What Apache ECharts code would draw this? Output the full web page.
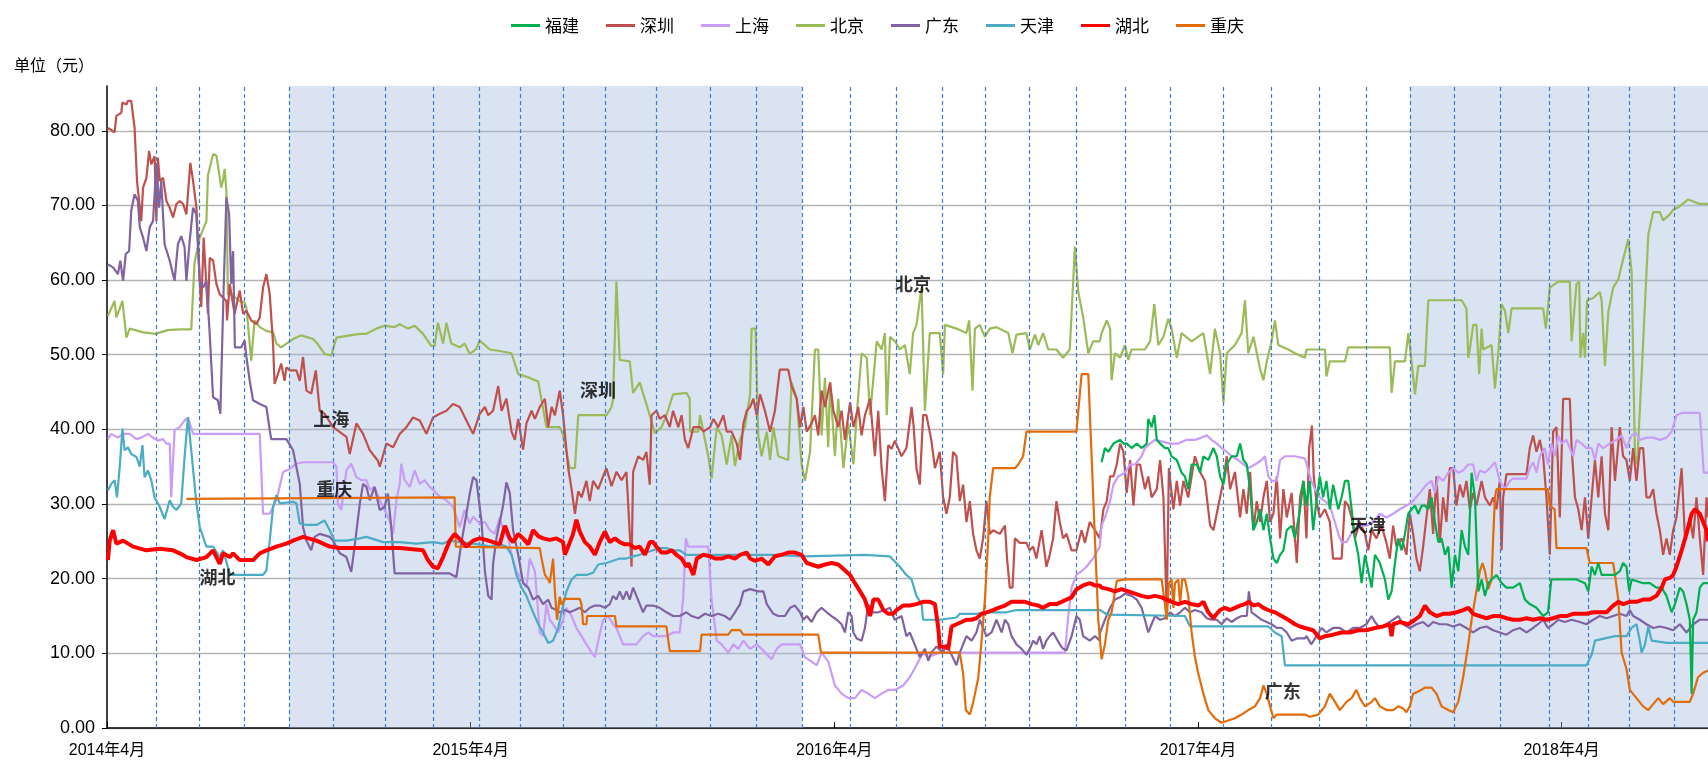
<!DOCTYPE html>
<html><head><meta charset="utf-8">
<script src="https://cdn.jsdelivr.net/npm/echarts/dist/echarts.min.js"></script>
<style>html,body{margin:0;padding:0;background:#fff}#c{width:1708px;height:768px}</style>
</head><body><div id="c"></div>
<script>
// x = months since 2014年4月
const legendNames = ['福建','深圳','上海','北京','广东','天津','湖北','重庆'];
const yearTicks = [0, 12, 24, 36, 48];
const refMonths = [1.63,3.04,4.54,6.0,7.46,9.17,10.76,12.27,13.62,15.07,16.45,18.13,19.89,21.43,22.94,24.54,26.05,27.56,28.97,30.43,31.97,33.59,35.1,36.83,38.43,39.99,41.54,42.99,44.46,45.96,47.58,48.88,50.23,51.7];
const shadedRanges = [[6.0, 22.94], [42.99, 52.83]];
const notes = [['北京',26.6,59.4],['深圳',16.2,45.2],['上海',7.4,41.4],['重庆',7.5,32.0],['湖北',3.65,20.2],['天津',41.6,27.2],['广东',38.8,4.9]];

const beijing = [[0.03,55.2],[0.25,57.2],[0.31,55.0],[0.51,57.2],[0.64,52.3],[0.75,53.5],[1.2,53.0],[1.6,52.8],[2.0,53.3],[2.4,53.4],[2.78,53.4],[2.89,62.4],[3.06,65.7],[3.28,67.9],[3.33,74.0],[3.5,76.9],[3.61,76.7],[3.77,72.4],[3.83,73.4],[3.88,74.9],[3.94,72.0],[3.99,58.1],[4.16,57.9],[4.38,57.2],[4.54,57.0],[4.6,56.3],[4.76,49.2],[4.87,54.6],[5.04,53.7],[5.26,53.2],[5.48,53.0],[5.59,51.5],[5.75,51.0],[5.92,51.5],[6.14,52.1],[6.41,52.6],[6.8,52.1],[6.96,51.4],[7.18,50.1],[7.4,49.9],[7.57,52.3],[8.01,52.6],[8.34,52.8],[8.56,52.8],[8.89,53.5],[9.16,53.9],[9.49,53.7],[9.66,54.1],[9.93,53.5],[10.15,53.9],[10.43,52.8],[10.7,51.2],[10.81,51.2],[10.92,54.3],[11.09,51.5],[11.2,54.3],[11.36,51.5],[11.64,51.0],[11.8,51.5],[11.97,50.1],[12.19,50.8],[12.3,51.9],[12.63,50.7],[12.96,50.5],[13.35,50.2],[13.57,47.4],[13.95,46.9],[14.23,46.4],[14.5,40.3],[14.94,40.3],[15.05,39.2],[15.27,34.8],[15.44,34.8],[15.55,41.9],[16.48,41.9],[16.65,43.0],[16.7,44.1],[16.81,59.8],[16.92,49.3],[17.25,49.1],[17.36,44.9],[17.58,46.3],[17.91,41.9],[18.08,39.5],[18.3,40.3],[18.46,41.9],[18.68,44.7],[19.12,44.9],[19.23,44.1],[19.24,39.7],[19.51,39.7],[19.57,41.9],[19.84,36.4],[19.95,33.4],[20.12,40.3],[20.28,39.2],[20.45,35.3],[20.61,39.2],[20.72,35.1],[20.89,38.7],[21.05,40.3],[21.22,44.7],[21.27,53.5],[21.4,53.5],[21.49,39.2],[21.6,36.4],[21.77,39.7],[21.88,35.9],[21.99,40.3],[22.15,36.4],[22.48,35.9],[22.59,46.3],[22.76,44.1],[22.92,35.3],[23.03,33.1],[23.2,37.0],[23.36,50.7],[23.47,50.7],[23.58,39.2],[23.69,46.9],[23.8,37.6],[23.86,46.3],[24.02,36.4],[24.13,44.1],[24.3,34.8],[24.46,40.8],[24.63,35.3],[24.74,41.9],[24.9,50.2],[25.07,49.6],[25.18,41.9],[25.4,51.8],[25.56,50.7],[25.67,52.9],[25.73,41.9],[25.84,52.4],[26.0,51.8],[26.16,50.7],[26.33,51.3],[26.49,47.4],[26.6,52.9],[26.71,54.0],[26.88,59.0],[26.99,42.5],[27.15,52.9],[27.48,52.9],[27.59,47.4],[27.65,54.0],[28.03,53.5],[28.36,52.9],[28.45,54.6],[28.56,45.2],[28.64,53.5],[28.8,54.0],[28.97,52.4],[29.13,53.5],[29.35,53.7],[29.74,52.9],[29.88,50.2],[30.01,52.7],[30.34,52.9],[30.45,50.7],[30.62,52.7],[30.73,51.3],[30.89,52.9],[31.06,50.7],[31.33,50.7],[31.55,49.6],[31.77,50.7],[31.94,64.5],[32.05,58.4],[32.21,55.1],[32.38,50.2],[32.54,51.8],[32.76,51.8],[32.82,52.9],[32.99,54.6],[33.1,53.5],[33.15,46.6],[33.26,50.2],[33.43,49.6],[33.59,51.3],[33.7,49.3],[33.81,50.7],[34.25,50.7],[34.42,51.8],[34.56,56.8],[34.69,51.3],[34.86,52.4],[35.02,54.8],[35.13,53.5],[35.3,49.6],[35.46,52.9],[35.79,51.8],[36.18,52.9],[36.29,50.2],[36.4,47.4],[36.56,53.5],[36.73,50.2],[36.84,43.6],[36.95,50.2],[37.22,51.3],[37.44,52.9],[37.55,57.3],[37.66,50.2],[37.83,52.4],[38.05,48.1],[38.16,46.6],[38.27,49.1],[38.43,51.8],[38.54,54.6],[38.65,51.3],[38.98,50.7],[39.2,50.2],[39.53,49.6],[39.58,50.7],[40.19,50.7],[40.24,47.1],[40.35,49.1],[40.85,49.1],[40.96,51.0],[42.33,51.0],[42.39,44.9],[42.5,49.1],[42.83,49.1],[42.94,52.9],[43.02,50.2],[43.16,44.7],[43.27,48.5],[43.49,48.5],[43.6,57.3],[44.7,57.3],[44.86,56.2],[44.92,49.6],[44.97,50.7],[45.08,54.0],[45.19,54.0],[45.28,47.4],[45.36,53.5],[45.41,50.7],[45.69,51.3],[45.8,45.5],[45.91,50.2],[46.02,56.8],[46.13,55.9],[46.24,52.9],[46.35,56.2],[47.39,56.2],[47.48,53.5],[47.61,59.0],[47.89,59.8],[48.27,59.8],[48.33,51.8],[48.49,59.5],[48.58,59.8],[48.62,49.6],[48.71,52.9],[48.77,49.6],[48.84,57.3],[49.04,57.6],[49.26,58.4],[49.32,57.3],[49.43,48.5],[49.54,55.7],[49.7,59.0],[49.87,60.1],[50.03,62.8],[50.2,65.5],[50.31,61.1],[50.42,36.4],[50.49,35.3],[50.64,47.4],[50.86,66.1],[51.02,69.1],[51.24,69.1],[51.35,68.0],[51.57,68.8],[51.68,69.4],[51.9,69.9],[52.18,70.8],[52.56,70.2],[52.83,70.2]];

const shenzhen = [[0.03,80.4],[0.25,79.8],[0.31,82.0],[0.47,82.4],[0.51,83.8],[0.64,83.5],[0.69,84.0],[0.8,84.0],[0.91,80.4],[0.99,73.3],[1.13,67.9],[1.19,72.4],[1.3,73.7],[1.39,77.3],[1.46,75.5],[1.57,76.6],[1.63,67.9],[1.68,76.4],[1.74,73.3],[1.85,73.7],[1.96,70.6],[2.07,69.7],[2.18,68.4],[2.29,70.2],[2.4,70.6],[2.51,70.2],[2.62,68.8],[2.75,75.7],[2.84,73.3],[2.95,69.7],[3.06,59.9],[3.11,56.4],[3.19,65.7],[3.33,55.5],[3.39,63.0],[3.5,62.6],[3.61,59.5],[3.72,58.1],[3.94,57.2],[3.96,54.6],[4.05,59.5],[4.21,55.5],[4.38,58.6],[4.49,55.5],[4.6,55.9],[4.76,54.6],[4.93,54.1],[5.04,55.0],[5.15,59.0],[5.26,60.8],[5.37,58.1],[5.48,51.4],[5.53,46.1],[5.64,47.4],[5.75,48.8],[5.86,46.5],[5.92,48.3],[6.03,47.9],[6.25,47.9],[6.36,46.5],[6.47,49.7],[6.58,45.2],[6.74,44.8],[6.89,47.9],[7.02,42.5],[7.18,42.1],[7.46,40.3],[7.9,39.0],[8.01,36.7],[8.23,40.8],[8.45,39.4],[8.67,37.2],[8.94,35.8],[9.0,35.0],[9.22,38.1],[9.44,37.6],[9.66,39.4],[9.88,40.3],[10.1,41.6],[10.32,41.2],[10.54,39.4],[10.76,41.6],[10.98,42.1],[11.2,42.5],[11.42,43.4],[11.64,43.0],[11.86,41.2],[12.08,39.4],[12.3,42.1],[12.47,43.0],[12.58,41.9],[12.74,42.5],[12.91,45.8],[13.02,42.5],[13.18,44.1],[13.35,39.7],[13.46,38.6],[13.57,41.4],[13.73,37.3],[13.84,40.8],[14.01,42.5],[14.12,41.4],[14.28,43.0],[14.45,44.1],[14.56,40.3],[14.67,43.0],[14.78,41.9],[14.94,45.2],[15.05,41.9],[15.22,34.8],[15.33,32.0],[15.44,28.7],[15.55,31.7],[15.66,30.9],[15.82,33.1],[15.93,30.4],[16.04,33.1],[16.21,32.0],[16.37,33.7],[16.48,34.8],[16.65,32.4],[16.81,34.3],[16.98,33.2],[17.14,34.3],[17.31,21.6],[17.36,34.3],[17.53,36.4],[17.69,35.9],[17.8,37.0],[17.91,32.6],[17.97,41.9],[18.13,42.5],[18.24,41.4],[18.41,41.9],[18.57,40.3],[18.68,42.5],[18.85,40.3],[18.96,41.9],[19.07,38.6],[19.18,37.5],[19.35,40.3],[19.57,40.3],[19.68,39.7],[19.9,40.3],[20.01,41.4],[20.17,40.3],[20.34,41.9],[20.45,39.7],[20.61,39.7],[20.78,38.1],[20.89,35.9],[21.0,40.8],[21.11,42.5],[21.22,43.0],[21.33,44.1],[21.44,41.9],[21.55,44.7],[21.71,42.5],[21.88,39.7],[22.04,42.5],[22.2,48.0],[22.48,48.0],[22.59,45.8],[22.76,44.1],[22.87,40.3],[22.98,43.0],[23.09,39.7],[23.25,40.8],[23.36,41.9],[23.47,39.2],[23.58,45.2],[23.69,43.0],[23.86,46.3],[23.97,42.5],[24.13,40.3],[24.24,42.5],[24.35,38.6],[24.52,43.6],[24.63,40.3],[24.79,43.0],[24.9,39.2],[25.01,41.9],[25.18,44.1],[25.34,36.4],[25.45,42.5],[25.56,34.8],[25.67,30.4],[25.78,37.9],[25.89,37.4],[26.0,38.5],[26.05,38.0],[26.22,36.4],[26.38,37.5],[26.55,43.0],[26.62,40.3],[26.71,34.8],[26.82,32.6],[26.93,41.9],[27.04,41.9],[27.2,38.6],[27.32,34.8],[27.48,37.0],[27.59,30.9],[27.7,28.7],[27.81,30.9],[27.92,37.0],[28.03,36.4],[28.14,30.4],[28.25,32.6],[28.36,27.6],[28.47,30.4],[28.58,26.0],[28.69,23.8],[28.8,22.7],[28.91,25.4],[29.02,30.4],[29.13,26.0],[29.24,26.5],[29.46,26.0],[29.63,27.1],[29.7,22.7],[29.79,18.8],[29.88,18.8],[29.96,25.4],[30.12,24.8],[30.34,24.8],[30.45,23.8],[30.56,24.3],[30.67,22.7],[30.84,26.5],[31.0,21.6],[31.11,23.2],[31.22,25.4],[31.33,30.4],[31.44,27.6],[31.55,25.4],[31.66,26.0],[31.83,23.8],[31.99,23.8],[32.16,26.5],[32.27,24.8],[32.43,27.6],[32.6,26.5],[32.76,25.4],[32.88,29.3],[32.99,30.4],[33.1,33.7],[33.21,33.7],[33.32,35.3],[33.43,38.1],[33.54,37.0],[33.65,31.5],[33.76,35.9],[33.87,29.8],[33.98,35.3],[34.09,35.3],[34.25,32.0],[34.36,33.7],[34.47,30.9],[34.64,32.0],[34.75,35.9],[34.86,30.9],[34.97,15.5],[35.04,34.8],[35.19,29.3],[35.3,33.1],[35.41,29.8],[35.52,33.1],[35.68,30.9],[35.79,33.7],[35.9,36.4],[36.07,34.3],[36.23,33.1],[36.4,27.1],[36.51,26.5],[36.62,28.7],[36.73,30.9],[36.84,33.1],[36.95,36.4],[37.06,32.0],[37.22,34.3],[37.39,28.2],[37.5,32.0],[37.61,28.7],[37.72,34.3],[37.83,26.5],[37.94,30.4],[38.05,27.6],[38.16,30.9],[38.27,33.1],[38.38,27.6],[38.49,28.7],[38.6,33.7],[38.71,25.4],[38.82,32.0],[38.93,28.2],[39.09,31.5],[39.26,22.1],[39.37,30.9],[39.48,33.1],[39.58,25.4],[39.67,37.5],[39.76,40.5],[39.82,33.7],[39.91,30.4],[40.02,28.2],[40.19,29.3],[40.35,27.6],[40.46,22.7],[40.74,22.7],[40.85,30.4],[40.96,29.8],[41.07,28.2],[41.18,25.4],[41.34,27.6],[41.51,26.0],[41.62,23.8],[41.73,26.5],[41.89,25.4],[42.06,27.1],[42.22,24.8],[42.33,22.7],[42.44,27.1],[42.55,24.3],[42.72,25.4],[42.88,23.2],[42.99,28.7],[43.1,26.0],[43.21,22.7],[43.32,21.0],[43.43,24.3],[43.54,28.2],[43.65,32.0],[43.76,26.0],[43.87,33.7],[43.98,24.8],[44.09,30.9],[44.2,27.6],[44.31,34.8],[44.42,34.8],[44.53,29.8],[44.64,32.6],[44.75,30.9],[44.86,33.1],[44.97,29.3],[45.08,31.5],[45.19,29.8],[45.36,33.1],[45.47,30.9],[45.63,29.8],[45.74,30.9],[45.85,29.3],[45.96,33.1],[46.02,23.8],[46.07,30.9],[46.18,34.0],[46.84,34.0],[46.95,37.5],[47.06,39.2],[47.17,37.0],[47.28,38.6],[47.39,36.4],[47.5,30.9],[47.61,23.2],[47.72,39.7],[47.83,40.3],[47.94,28.2],[48.05,44.1],[48.27,44.1],[48.33,37.5],[48.44,30.9],[48.55,29.3],[48.66,26.5],[48.77,30.9],[48.88,25.4],[48.99,30.9],[49.1,35.9],[49.21,30.9],[49.32,36.4],[49.43,28.7],[49.54,26.5],[49.65,40.3],[49.76,33.1],[49.92,40.3],[50.03,36.4],[50.14,35.9],[50.25,33.1],[50.36,37.5],[50.47,33.1],[50.58,37.5],[50.69,37.5],[50.8,30.9],[50.91,30.9],[51.02,32.0],[51.13,28.7],[51.24,26.5],[51.35,23.2],[51.46,25.4],[51.57,23.2],[51.68,26.5],[51.79,28.2],[51.96,34.8],[52.07,25.4],[52.23,28.2],[52.34,25.4],[52.45,30.9],[52.56,25.4],[52.67,20.5],[52.78,30.9],[52.83,28.2]];

const guangdong = [[0.03,62.1],[0.2,61.7],[0.36,60.8],[0.44,62.6],[0.53,59.9],[0.62,63.5],[0.73,63.9],[0.8,69.3],[0.91,71.5],[1.02,70.6],[1.08,67.1],[1.19,65.7],[1.3,63.9],[1.41,67.1],[1.52,67.9],[1.63,75.7],[1.72,69.7],[1.79,73.3],[1.9,64.8],[2.07,62.6],[2.23,59.9],[2.34,64.8],[2.45,65.9],[2.56,64.4],[2.62,59.9],[2.73,65.3],[2.84,69.7],[2.95,68.8],[3.06,59.9],[3.17,59.0],[3.28,59.9],[3.39,52.8],[3.5,44.3],[3.66,43.9],[3.74,42.1],[3.85,59.0],[3.94,71.1],[4.03,68.8],[4.1,59.5],[4.16,63.9],[4.22,51.0],[4.43,51.0],[4.54,51.9],[4.6,49.7],[4.71,46.5],[4.82,43.9],[5.04,43.4],[5.26,43.0],[5.37,39.9],[5.42,38.7],[5.92,38.7],[6.14,37.2],[6.36,32.7],[6.47,26.9],[6.58,25.1],[6.74,23.8],[6.85,25.6],[7.02,26.0],[7.35,25.6],[7.46,25.1],[7.68,23.4],[7.9,22.9],[8.06,20.9],[8.17,24.3],[8.34,30.0],[8.45,32.7],[8.56,32.3],[8.67,30.5],[8.83,32.3],[9.0,29.2],[9.16,29.6],[9.27,31.4],[9.38,26.9],[9.49,20.7],[9.66,20.7],[10.21,20.7],[10.76,20.7],[11.31,20.7],[11.53,20.2],[11.69,24.7],[11.86,28.7],[11.97,31.4],[12.08,33.6],[12.19,33.2],[12.36,27.6],[12.47,21.0],[12.58,17.7],[12.69,17.2],[12.74,22.0],[12.85,25.4],[13.07,29.8],[13.18,32.9],[13.29,31.5],[13.4,26.5],[13.57,23.2],[13.73,19.4],[13.9,18.8],[14.06,17.2],[14.23,17.7],[14.39,16.6],[14.56,17.2],[14.67,16.1],[14.83,15.8],[14.94,15.5],[15.11,15.8],[15.27,15.5],[15.44,15.8],[15.6,16.1],[15.77,15.5],[15.93,16.1],[16.1,16.4],[16.26,16.4],[16.43,16.1],[16.59,16.6],[16.7,17.7],[16.81,17.2],[16.92,18.3],[17.03,17.2],[17.14,18.3],[17.25,17.2],[17.36,18.8],[17.47,17.7],[17.58,16.6],[17.69,15.5],[17.8,16.4],[18.02,16.4],[18.24,16.1],[18.46,15.5],[18.68,15.0],[18.9,15.0],[19.12,15.5],[19.29,15.0],[19.51,14.7],[19.73,15.3],[19.95,15.0],[20.17,15.3],[20.39,15.0],[20.56,14.5],[20.72,15.5],[20.89,16.6],[21.0,18.3],[21.22,18.6],[21.49,18.3],[21.66,18.3],[21.77,16.6],[21.99,15.3],[22.15,15.0],[22.37,15.0],[22.54,16.1],[22.7,16.4],[22.87,15.5],[22.98,14.5],[23.09,15.0],[23.25,14.2],[23.42,15.5],[23.58,16.1],[23.75,15.5],[23.91,15.0],[24.08,14.5],[24.24,13.9],[24.35,12.8],[24.46,15.5],[24.57,15.0],[24.63,12.8],[24.74,12.0],[24.9,11.7],[25.01,13.4],[25.12,16.6],[25.23,15.5],[25.45,15.5],[25.67,15.8],[25.84,16.1],[25.99,14.5],[26.22,15.0],[26.38,12.3],[26.49,12.8],[26.6,11.7],[26.71,10.6],[26.82,9.5],[26.99,10.6],[27.1,9.0],[27.2,10.1],[27.37,10.9],[27.59,10.1],[27.7,11.2],[27.87,9.8],[28.03,8.4],[28.14,10.1],[28.25,11.2],[28.36,12.3],[28.53,11.7],[28.69,12.8],[28.8,14.5],[28.91,13.4],[29.02,12.3],[29.19,12.8],[29.35,14.5],[29.52,12.8],[29.63,14.5],[29.74,13.9],[29.85,12.3],[30.01,11.2],[30.18,10.6],[30.34,9.8],[30.45,10.6],[30.56,11.7],[30.67,11.2],[30.78,12.3],[30.89,10.6],[31.0,11.7],[31.11,12.3],[31.22,12.8],[31.33,12.0],[31.44,11.2],[31.55,10.6],[31.66,10.4],[31.83,12.3],[31.99,15.0],[32.1,14.5],[32.21,12.3],[32.43,11.7],[32.6,12.3],[32.76,11.7],[32.77,12.8],[32.93,14.5],[33.1,16.1],[33.26,17.2],[33.43,17.5],[33.59,18.0],[33.81,17.7],[33.98,17.2],[34.14,16.1],[34.25,14.5],[34.36,12.8],[34.47,13.9],[34.58,15.0],[34.75,14.5],[34.91,14.7],[35.08,15.5],[35.24,15.0],[35.41,15.5],[35.57,16.1],[35.74,15.5],[35.9,15.8],[36.12,15.5],[36.29,14.7],[36.45,14.5],[36.62,14.5],[36.78,13.9],[36.95,14.7],[37.11,14.2],[37.28,14.7],[37.44,15.0],[37.61,15.0],[37.68,18.3],[37.77,15.5],[37.94,15.0],[38.1,14.5],[38.27,14.2],[38.43,13.9],[38.6,13.4],[38.76,13.4],[38.93,12.8],[39.09,11.7],[39.26,12.0],[39.53,12.0],[39.58,12.3],[39.74,11.2],[39.91,12.3],[40.08,13.4],[40.24,12.8],[40.46,13.4],[40.68,13.4],[40.9,12.8],[41.12,13.4],[41.34,13.4],[41.56,13.9],[41.73,15.0],[41.84,14.2],[42.0,13.4],[42.22,13.9],[42.44,14.5],[42.61,15.0],[42.77,13.9],[42.99,13.4],[43.21,13.9],[43.43,14.2],[43.6,13.6],[43.76,14.2],[43.98,13.9],[44.2,13.9],[44.42,13.6],[44.64,13.9],[44.86,13.4],[45.08,12.8],[45.3,13.4],[45.52,13.6],[45.74,13.1],[45.96,12.8],[46.18,12.5],[46.4,13.1],[46.62,13.4],[46.84,12.8],[47.06,13.4],[47.22,13.9],[47.39,14.5],[47.55,13.4],[47.72,13.9],[47.89,14.5],[48.1,14.2],[48.33,14.5],[48.6,14.2],[48.82,13.9],[49.04,14.5],[49.26,15.0],[49.48,14.7],[49.7,15.0],[49.92,15.3],[50.14,15.0],[50.25,15.8],[50.36,15.0],[50.58,14.5],[50.8,13.9],[51.02,13.4],[51.24,13.6],[51.46,13.4],[51.68,13.1],[51.9,13.9],[52.12,12.8],[52.34,13.9],[52.56,14.5],[52.83,14.5]];

const hubei = [[0.03,22.5],[0.09,25.1],[0.2,26.5],[0.31,24.7],[0.53,25.1],[0.86,24.3],[1.3,23.8],[1.74,24.0],[2.18,23.8],[2.4,23.4],[2.62,22.9],[2.95,22.5],[3.28,22.9],[3.5,23.8],[3.72,22.0],[3.83,23.4],[4.05,22.9],[4.16,23.4],[4.38,22.5],[4.82,22.5],[5.04,23.4],[5.26,23.8],[5.59,24.3],[5.92,24.7],[6.14,25.1],[6.47,25.6],[6.91,25.1],[7.35,24.3],[7.68,24.1],[8.56,24.1],[9.66,24.1],[10.43,23.8],[10.59,22.5],[10.76,21.6],[10.92,21.4],[11.09,22.9],[11.31,25.1],[11.47,26.0],[11.69,25.1],[11.86,24.3],[12.08,25.1],[12.3,25.4],[12.52,25.2],[12.74,24.9],[12.96,24.6],[13.13,27.1],[13.29,25.4],[13.4,24.9],[13.57,26.0],[13.73,25.4],[13.9,24.6],[14.06,26.5],[14.23,25.7],[14.39,25.4],[14.61,25.2],[14.83,25.4],[15.05,24.9],[15.11,23.2],[15.22,24.3],[15.38,26.0],[15.49,27.9],[15.6,26.3],[15.77,24.9],[15.93,24.3],[16.1,23.2],[16.26,24.9],[16.43,26.3],[16.59,24.9],[16.76,25.4],[16.92,24.9],[17.09,24.6],[17.25,24.6],[17.42,24.1],[17.58,24.3],[17.75,23.2],[17.91,24.9],[18.02,24.9],[18.13,24.3],[18.3,23.5],[18.46,23.5],[18.63,23.8],[18.79,23.2],[18.96,22.7],[19.12,21.6],[19.18,22.1],[19.35,20.5],[19.46,22.7],[19.68,23.2],[19.9,23.0],[20.06,22.7],[20.28,22.7],[20.5,23.0],[20.72,22.7],[20.89,23.2],[21.11,23.5],[21.22,22.7],[21.38,22.4],[21.6,22.7],[21.82,21.9],[22.04,23.0],[22.26,23.2],[22.48,23.5],[22.7,23.5],[22.92,23.2],[23.09,22.1],[23.25,21.9],[23.47,21.6],[23.69,21.9],[23.91,22.1],[24.13,21.9],[24.3,21.3],[24.52,20.5],[24.68,19.4],[24.85,18.3],[25.01,17.2],[25.18,15.0],[25.29,17.2],[25.45,17.2],[25.62,15.8],[25.78,15.3],[25.95,15.3],[26.05,15.8],[26.27,16.4],[26.49,16.4],[26.71,16.6],[26.93,16.9],[27.15,16.9],[27.32,16.6],[27.43,13.4],[27.48,10.9],[27.65,10.9],[27.76,10.6],[27.87,13.6],[28.03,13.9],[28.2,14.2],[28.36,14.5],[28.53,14.5],[28.69,14.7],[28.86,15.3],[29.02,15.5],[29.24,15.8],[29.41,16.1],[29.63,16.4],[29.85,16.9],[30.07,16.9],[30.29,16.9],[30.51,16.6],[30.73,16.4],[30.89,16.1],[31.11,16.6],[31.33,16.6],[31.5,16.9],[31.66,17.2],[31.83,17.5],[31.99,18.6],[32.21,19.1],[32.43,19.4],[32.6,19.1],[32.76,19.1],[32.82,18.8],[33.04,18.6],[33.26,18.3],[33.48,18.6],[33.7,18.3],[33.92,18.0],[34.14,17.7],[34.36,17.5],[34.58,17.7],[34.8,17.5],[34.97,17.2],[35.13,16.9],[35.35,16.6],[35.57,16.9],[35.79,16.6],[36.01,16.4],[36.18,16.9],[36.34,15.5],[36.51,14.7],[36.62,15.3],[36.73,15.8],[36.89,16.1],[37.06,15.8],[37.22,16.1],[37.39,16.4],[37.55,16.6],[37.68,16.9],[37.83,16.4],[37.99,16.6],[38.16,16.1],[38.32,15.8],[38.54,15.5],[38.76,15.0],[38.98,14.5],[39.2,13.9],[39.37,13.6],[39.53,13.4],[39.8,13.1],[40.02,12.0],[40.19,12.3],[40.46,12.5],[40.74,12.8],[41.01,12.8],[41.29,13.1],[41.56,13.1],[41.84,13.4],[42.11,13.6],[42.33,13.9],[42.39,12.3],[42.44,13.9],[42.66,14.2],[42.94,13.9],[43.16,14.5],[43.32,15.0],[43.49,16.4],[43.65,15.5],[43.87,15.0],[44.09,15.3],[44.31,15.3],[44.53,15.5],[44.75,15.8],[44.92,16.1],[45.08,15.3],[45.3,15.0],[45.52,14.7],[45.74,15.0],[45.96,15.0],[46.18,14.7],[46.4,14.5],[46.62,14.5],[46.84,14.7],[47.06,14.5],[47.28,14.7],[47.5,14.5],[47.72,14.7],[47.94,15.0],[48.16,15.0],[48.38,15.3],[48.6,15.3],[48.82,15.3],[49.04,15.5],[49.26,15.5],[49.48,15.5],[49.7,16.4],[49.87,16.9],[50.03,16.6],[50.25,16.9],[50.47,16.9],[50.69,17.2],[50.91,17.2],[51.13,17.7],[51.3,18.8],[51.41,19.9],[51.57,20.1],[51.68,20.5],[51.79,21.6],[51.96,23.8],[52.12,26.0],[52.29,28.7],[52.4,29.3],[52.56,28.7],[52.67,27.6],[52.78,26.5],[52.83,25.0]];

const tianjin = [[0.03,31.8],[0.14,32.7],[0.25,33.2],[0.33,30.9],[0.42,35.0],[0.51,40.1],[0.58,37.2],[0.69,37.6],[0.8,36.7],[0.97,36.3],[1.08,35.0],[1.17,37.9],[1.24,33.6],[1.35,34.5],[1.46,33.2],[1.57,30.9],[1.74,29.6],[1.9,28.0],[2.07,30.5],[2.18,29.6],[2.29,29.2],[2.45,30.1],[2.56,36.3],[2.67,41.6],[2.78,37.2],[2.95,30.1],[3.06,26.9],[3.28,24.3],[3.5,24.3],[3.72,22.9],[3.83,23.8],[4.05,20.7],[4.16,20.5],[4.71,20.5],[5.15,20.5],[5.26,21.1],[5.37,25.1],[5.48,29.6],[5.59,31.2],[5.7,30.1],[6.14,30.3],[6.25,30.1],[6.36,27.4],[6.58,27.2],[6.91,27.2],[7.18,27.8],[7.35,26.5],[7.51,25.1],[7.9,25.1],[8.34,25.4],[8.56,25.6],[9.11,24.9],[9.66,24.9],[10.21,24.7],[10.76,24.9],[11.09,24.7],[11.31,25.1],[11.64,24.9],[12.08,24.7],[12.3,24.6],[12.63,24.3],[12.96,24.6],[13.18,24.3],[13.35,23.2],[13.51,20.5],[13.68,18.8],[13.84,17.7],[14.06,15.5],[14.23,13.9],[14.39,12.8],[14.56,11.4],[14.72,11.7],[14.89,13.4],[15.0,15.5],[15.16,18.3],[15.33,19.9],[15.49,20.5],[15.82,20.5],[16.04,20.8],[16.21,21.9],[16.48,22.1],[16.7,22.4],[16.92,22.7],[17.14,22.7],[17.36,23.0],[17.58,23.2],[17.8,23.5],[18.02,23.8],[18.24,24.1],[18.46,24.1],[18.68,23.8],[18.9,23.8],[19.12,23.2],[20.5,23.2],[22.0,23.2],[23.0,23.0],[25.0,23.2],[25.83,23.0],[26.16,21.6],[26.38,20.5],[26.55,19.9],[26.71,17.7],[26.88,16.6],[26.93,14.5],[27.48,14.5],[28.03,14.8],[28.14,15.3],[28.69,15.3],[29.02,15.5],[29.68,15.5],[30.01,15.8],[32.76,15.8],[33.0,15.2],[35.57,15.0],[35.74,13.6],[38.32,13.6],[38.54,12.8],[38.76,12.3],[38.87,8.4],[45.0,8.4],[48.82,8.4],[48.99,9.8],[49.1,11.7],[49.76,12.3],[50.14,12.3],[50.31,13.4],[50.47,13.9],[50.58,11.7],[50.64,10.1],[50.75,11.2],[50.86,13.6],[50.97,11.7],[51.46,11.4],[52.12,11.4],[52.83,11.4]];

const shanghai = [[0.03,38.7],[0.14,39.4],[0.36,38.9],[0.53,39.4],[0.75,39.4],[0.97,38.7],[1.13,38.9],[1.35,39.4],[1.52,38.9],[1.68,38.5],[1.85,38.7],[1.96,38.1],[2.07,38.1],[2.12,30.9],[2.23,39.9],[2.4,40.3],[2.56,41.2],[2.67,41.6],[2.84,39.4],[3.06,39.4],[4.16,39.4],[5.04,39.4],[5.15,28.7],[5.37,28.7],[5.59,30.5],[5.81,34.3],[6.03,34.7],[6.25,35.4],[6.47,35.6],[7.46,35.6],[7.57,35.0],[7.62,30.0],[7.73,29.2],[7.9,34.5],[8.06,35.4],[8.23,33.6],[8.39,33.2],[8.56,33.2],[8.67,31.9],[8.83,32.3],[9.0,30.5],[9.22,28.7],[9.33,27.8],[9.44,26.0],[9.55,30.5],[9.66,32.7],[9.71,35.4],[9.82,33.2],[9.99,32.3],[10.15,34.5],[10.32,32.7],[10.48,33.2],[10.65,32.3],[10.76,31.9],[10.98,31.0],[11.2,30.5],[11.42,29.6],[11.64,26.9],[11.8,29.2],[11.97,27.4],[12.08,28.3],[12.3,27.4],[12.47,27.6],[12.63,26.5],[12.8,26.0],[12.96,28.2],[13.07,26.5],[13.24,25.4],[13.35,23.2],[13.51,21.0],[13.68,19.9],[13.84,18.8],[13.95,22.7],[14.12,21.0],[14.28,12.8],[14.39,12.3],[14.5,16.6],[14.61,14.5],[14.72,13.9],[14.89,12.8],[15.05,14.5],[15.16,16.1],[15.33,15.0],[15.49,13.4],[15.66,12.3],[15.82,11.2],[15.99,10.1],[16.1,9.5],[16.21,11.7],[16.37,14.5],[16.54,15.0],[16.7,13.9],[16.81,13.4],[16.92,12.3],[17.03,11.2],[17.25,11.2],[17.47,11.2],[17.69,12.3],[17.86,12.8],[18.02,12.3],[18.24,12.3],[18.46,12.3],[18.68,12.8],[18.9,12.8],[19.01,17.2],[19.1,25.4],[19.18,24.3],[19.29,24.3],[19.62,24.3],[19.84,24.3],[19.95,17.2],[20.12,11.7],[20.28,11.2],[20.5,10.1],[20.67,11.2],[20.83,10.6],[21.0,11.7],[21.22,10.6],[21.44,11.2],[21.6,10.6],[21.93,9.2],[22.1,10.6],[22.26,11.2],[22.59,11.2],[22.87,11.2],[23.03,9.5],[23.25,8.9],[23.42,8.4],[23.58,10.1],[23.8,8.9],[24.02,5.7],[24.24,4.6],[24.46,4.0],[24.68,4.0],[24.9,5.1],[25.12,4.6],[25.34,4.0],[25.56,4.6],[25.78,5.1],[26.0,5.1],[26.27,5.7],[26.49,6.8],[26.71,8.4],[26.93,10.1],[27.1,9.5],[27.48,10.1],[29.13,10.1],[31.61,10.1],[31.72,15.0],[31.83,18.8],[31.99,20.5],[32.16,21.0],[32.32,21.6],[32.54,22.7],[32.76,24.3],[32.82,27.1],[32.93,28.2],[33.1,30.4],[33.21,32.6],[33.37,33.7],[33.59,34.2],[33.76,35.3],[33.92,35.3],[34.14,36.4],[34.25,37.5],[34.42,38.1],[34.58,38.6],[34.8,38.4],[35.08,38.1],[35.35,38.1],[35.63,38.6],[35.9,38.6],[36.12,38.9],[36.29,39.2],[36.45,38.6],[36.62,38.1],[36.78,37.5],[36.95,37.0],[37.11,36.4],[37.33,35.9],[37.5,35.3],[37.66,34.8],[37.88,35.3],[38.1,35.9],[38.21,36.4],[38.32,33.7],[38.43,33.1],[38.6,33.1],[38.71,35.9],[38.87,36.4],[39.2,36.4],[39.53,36.1],[39.58,35.9],[39.74,33.1],[39.86,32.0],[40.02,30.9],[40.19,30.4],[40.35,29.8],[40.52,27.6],[40.63,26.0],[40.74,24.9],[40.9,24.9],[41.12,26.5],[41.34,27.1],[41.56,27.1],[41.78,27.6],[42.0,28.7],[42.22,28.2],[42.44,28.7],[42.66,29.3],[42.88,29.8],[43.1,30.4],[43.32,31.5],[43.54,32.6],[43.71,33.1],[43.82,31.5],[43.93,33.7],[44.09,33.1],[44.26,34.2],[44.42,34.8],[44.59,34.2],[44.75,34.5],[44.92,35.3],[45.08,35.3],[45.19,33.1],[45.3,34.5],[45.47,34.2],[45.63,34.8],[45.8,35.6],[45.96,33.1],[46.13,32.0],[46.29,33.1],[46.4,33.4],[46.84,33.4],[46.95,34.8],[47.06,35.6],[47.17,34.2],[47.28,36.4],[47.44,37.5],[47.55,35.3],[47.66,38.1],[47.77,36.4],[47.89,39.2],[48.0,38.1],[48.16,38.6],[48.27,37.5],[48.38,36.4],[48.49,38.6],[48.66,38.1],[48.82,37.5],[48.99,37.5],[49.1,35.9],[49.21,38.1],[49.37,37.5],[49.59,38.1],[49.81,38.6],[49.98,39.2],[50.14,37.5],[50.31,39.2],[50.47,39.5],[50.58,38.6],[50.8,38.9],[51.02,38.9],[51.24,38.6],[51.46,38.9],[51.63,39.7],[51.79,41.9],[51.96,42.2],[52.56,42.2],[52.69,34.2],[52.83,34.2]];

const fujian = [[32.82,35.6],[32.93,37.5],[33.04,37.0],[33.21,38.1],[33.43,38.6],[33.54,38.1],[33.65,38.1],[33.81,37.5],[33.98,38.1],[34.14,37.5],[34.31,38.1],[34.36,41.4],[34.47,40.3],[34.56,41.9],[34.64,38.6],[34.75,38.1],[34.91,37.5],[35.02,37.5],[35.13,36.4],[35.3,35.9],[35.46,34.2],[35.57,33.7],[35.68,32.0],[35.79,35.3],[35.96,35.3],[36.07,34.2],[36.18,36.4],[36.34,35.9],[36.51,37.5],[36.62,36.4],[36.73,33.7],[36.84,32.6],[36.95,35.3],[37.11,36.4],[37.28,36.4],[37.39,38.1],[37.5,35.9],[37.61,35.3],[37.72,32.0],[37.83,26.5],[37.94,27.6],[38.05,29.3],[38.16,26.5],[38.27,28.7],[38.38,25.4],[38.49,22.7],[38.6,22.1],[38.71,23.2],[38.82,23.8],[38.93,26.5],[39.09,27.1],[39.2,25.4],[39.37,29.3],[39.48,33.1],[39.58,29.8],[39.69,33.1],[39.8,26.5],[39.91,30.4],[40.02,33.7],[40.13,30.9],[40.24,33.1],[40.35,29.3],[40.46,32.6],[40.63,29.3],[40.74,30.9],[40.85,33.1],[40.96,33.1],[41.07,29.3],[41.18,25.4],[41.29,23.2],[41.4,19.4],[41.51,23.2],[41.62,21.0],[41.73,18.8],[41.84,23.2],[42.0,22.1],[42.17,19.9],[42.28,17.2],[42.39,18.3],[42.5,22.1],[42.61,25.4],[42.72,23.8],[42.83,26.0],[42.94,28.7],[43.05,29.3],[43.16,29.8],[43.27,28.7],[43.38,29.8],[43.49,29.8],[43.6,29.3],[43.71,30.9],[43.82,27.6],[43.93,24.9],[44.04,25.4],[44.15,23.2],[44.26,24.3],[44.37,18.8],[44.48,23.2],[44.59,21.0],[44.7,26.5],[44.81,24.3],[44.92,23.2],[45.03,34.2],[45.14,30.9],[45.25,18.3],[45.36,19.9],[45.47,17.7],[45.58,19.4],[45.69,19.9],[45.85,20.5],[46.02,19.4],[46.18,18.8],[46.4,18.8],[46.62,19.4],[46.79,17.2],[46.95,16.6],[47.17,16.1],[47.39,15.0],[47.55,15.5],[47.66,19.9],[48.16,19.9],[48.49,19.9],[48.77,19.4],[48.88,18.3],[48.99,21.6],[49.1,20.5],[49.21,22.1],[49.32,20.5],[49.59,20.5],[49.76,20.5],[49.92,21.0],[50.03,22.1],[50.14,21.6],[50.23,18.3],[50.31,19.9],[50.69,19.4],[50.91,19.4],[51.13,18.8],[51.3,18.8],[51.46,17.7],[51.63,15.5],[51.74,16.6],[51.9,18.8],[52.01,18.3],[52.12,16.6],[52.23,14.5],[52.29,4.6],[52.34,14.5],[52.45,15.5],[52.56,18.8],[52.67,19.4],[52.83,19.4]];

const chongqing = [[2.62,30.7],[11.47,30.9],[11.51,24.3],[14.28,24.1],[14.34,22.7],[14.45,20.5],[14.56,19.9],[14.61,19.4],[14.72,22.7],[14.78,18.3],[14.85,14.5],[14.94,17.6],[15.0,16.5],[15.11,17.3],[15.6,17.3],[15.66,16.5],[15.71,13.9],[15.82,13.9],[15.84,15.0],[16.76,15.0],[16.81,13.6],[18.46,13.6],[18.57,10.3],[19.57,10.3],[19.62,12.5],[20.5,12.5],[20.61,13.1],[20.89,13.1],[21.0,12.5],[23.47,12.5],[23.56,10.1],[28.14,10.1],[28.25,7.3],[28.34,2.4],[28.47,1.8],[28.58,3.4],[28.75,6.7],[28.86,11.7],[28.97,17.2],[29.08,25.4],[29.13,30.9],[29.24,34.8],[29.96,34.8],[30.07,35.3],[30.23,36.4],[30.34,39.7],[31.99,39.7],[32.16,47.4],[32.38,47.4],[32.49,36.4],[32.6,25.4],[32.71,14.5],[32.82,9.2],[32.93,11.2],[33.04,14.5],[33.15,15.5],[33.32,19.7],[33.59,19.9],[34.8,19.9],[34.91,16.6],[34.97,14.5],[35.04,19.4],[35.13,19.9],[35.19,16.1],[35.24,19.4],[35.35,19.9],[35.41,16.6],[35.48,19.9],[35.57,19.9],[35.68,17.7],[35.79,12.8],[35.9,9.5],[36.01,7.3],[36.18,4.6],[36.34,2.4],[36.56,1.3],[36.78,0.7],[37.0,1.0],[37.22,1.3],[37.44,1.8],[37.66,2.4],[37.88,2.9],[38.05,4.0],[38.16,5.7],[38.27,4.6],[38.38,2.9],[38.49,1.3],[38.6,1.8],[38.87,1.8],[39.2,1.8],[39.53,1.8],[39.69,1.5],[39.97,1.8],[40.19,2.9],[40.35,4.6],[40.52,3.5],[40.68,2.4],[40.9,3.5],[41.07,4.0],[41.23,5.1],[41.34,4.0],[41.51,2.9],[41.73,3.5],[41.84,4.0],[42.0,2.9],[42.22,2.4],[42.44,2.4],[42.61,2.9],[42.77,2.6],[42.88,2.1],[42.99,2.9],[43.1,4.6],[43.27,4.9],[43.49,5.4],[43.71,5.4],[43.87,4.6],[44.04,2.9],[44.26,2.4],[44.42,2.1],[44.59,3.5],[44.75,6.8],[44.92,11.2],[45.03,14.5],[45.14,17.2],[45.3,21.0],[45.39,22.1],[45.47,21.0],[45.58,18.6],[45.69,19.9],[45.74,25.4],[45.8,30.9],[45.85,32.0],[47.55,32.0],[47.61,29.8],[47.77,29.3],[47.83,24.1],[48.82,24.1],[48.93,22.1],[49.7,22.1],[49.76,20.5],[49.87,17.2],[49.98,10.1],[50.14,7.9],[50.25,5.1],[50.47,4.0],[50.69,2.9],[50.86,2.4],[51.02,3.2],[51.19,4.0],[51.35,3.2],[51.57,4.0],[51.68,3.5],[52.23,3.5],[52.34,4.6],[52.5,6.8],[52.67,7.4],[52.83,7.7]];

const colors = {'福建':'#00b050','深圳':'#c0504d','上海':'#c99cf7','北京':'#9bbb59','广东':'#8064a2','天津':'#4bacc6','湖北':'#ff0000','重庆':'#e36c0a'};
const seriesData = {'北京':beijing,'深圳':shenzhen,'上海':shanghai,'广东':guangdong,'天津':tianjin,'重庆':chongqing,'福建':fujian,'湖北':hubei};
const drawOrder = ['北京','深圳','上海','广东','天津','重庆','福建','湖北'];

const chart = echarts.init(document.getElementById('c'), null, {renderer:'canvas'});
const baseFont = 'Liberation Sans, Arial, Noto Sans CJK SC, sans-serif';

const series = drawOrder.map((name, i) => ({
  name, type:'line', data: seriesData[name], symbol:'none', showSymbol:false,
  lineStyle:{color: colors[name], width: name === '湖北' ? 4 : 2.2},
  itemStyle:{color: colors[name]},
  z: 3 + i, silent:true, emphasis:{disabled:true}
}));

series.unshift({
  name:'bg', type:'line', data: [], z: 1, silent:true,
  markArea:{silent:true, itemStyle:{color:'rgba(160,185,222,0.4)'},
    data: shadedRanges.map(r => [{xAxis:r[0]},{xAxis:r[1]}])},
  markLine:{silent:true, symbol:['none','none'], label:{show:false},
    lineStyle:{color:'#3d7cc9', type:[4,3], width:1.2},
    data: refMonths.map(m => ({xAxis:m}))}
});

series.push({
  name:'notes', type:'scatter', symbol:'circle', symbolSize:2, itemStyle:{color:'rgba(0,0,0,0)'}, z:20, silent:true,
  data: notes.map(n => ({name:n[0], value:[n[1], n[2]]})),
  label:{show:true, position:'inside', formatter: p => p.name, color:'#000', fontSize:18, fontWeight:'bold', fontFamily:'Noto Sans CJK SC'}
});

const legendData = legendNames.map(n => ({name:n, icon:'rect'}));

chart.setOption({
  animation:false,
  backgroundColor:'#fff',
  title:{text:'单位（元）', left:9, top:52, textStyle:{fontSize:16, fontWeight:'normal', color:'#000', fontFamily:'Noto Sans CJK SC'}},
  legend:{data: legendData, left:506, top:12, itemWidth:29, itemHeight:3, itemGap:27,
    textStyle:{fontSize:17, color:'#000', fontFamily:'Noto Sans CJK SC', padding:[0,0,0,0]}},
  grid:{left:107, right:0, top:86, bottom:40, containLabel:false},
  xAxis:{type:'value', min:0, max:52.83, interval:12,
    axisLine:{show:true, lineStyle:{color:'#000', width:1.5}},
    axisTick:{show:true, inside:true, length:6, lineStyle:{color:'#000'}},
    splitLine:{show:false},
    axisLabel:{show:true, showMaxLabel:false, margin:15, fontSize:16, color:'#000', fontFamily:baseFont,
      formatter: v => yearTicks.indexOf(v) >= 0 ? (2014 + v/12) + '年4月' : ''}},
  yAxis:{type:'value', min:0, max:86, interval:10,
    axisLine:{show:true, lineStyle:{color:'#000', width:1.5}},
    axisTick:{show:true, inside:false, length:5, lineStyle:{color:'#000'}},
    splitLine:{show:true, showMaxLine:false, lineStyle:{color:'#b5b5b5', width:1.3}},
    axisLabel:{showMaxLabel:false, margin:12, fontSize:18, color:'#000', fontFamily:baseFont,
      formatter: v => (v % 10 === 0 ? v.toFixed(2) : '')}},
  series
});
</script></body></html>
